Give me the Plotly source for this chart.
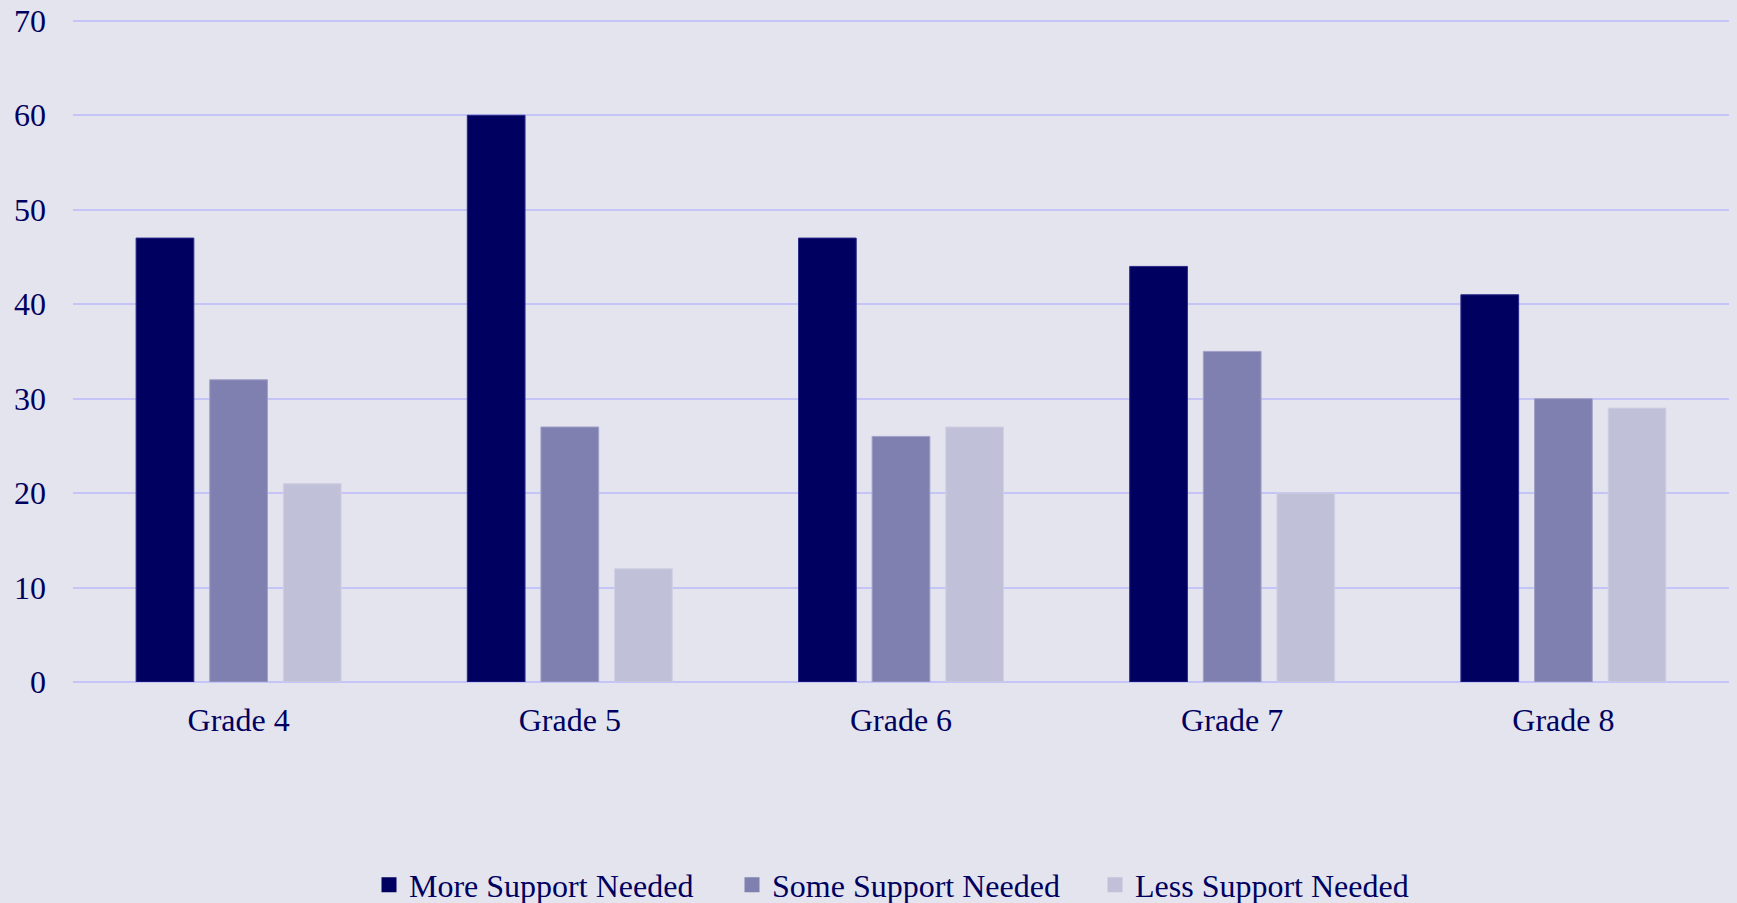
import plotly.graph_objects as go

categories = ["Grade 4", "Grade 5", "Grade 6", "Grade 7", "Grade 8"]
more_support = [47, 60, 47, 44, 41]
some_support = [32, 27, 26, 35, 30]
less_support = [21, 12, 27, 20, 29]
y_ticks = [0, 10, 20, 30, 40, 50, 60, 70]

series = [
    ("More Support Needed", more_support, "#000060", "#2a2a88"),
    ("Some Support Needed", some_support, "#8080b0", "#a0a0c8"),
    ("Less Support Needed", less_support, "#c0c0d8", "#d0d0e4"),
]

fig = go.Figure()
for name, vals, col, lcol in series:
    fig.add_trace(go.Bar(x=categories, y=vals, name=name, showlegend=False,
                         marker=dict(color=col, line=dict(color=lcol, width=1))))
# legend entries with larger square keys
for name, vals, col, lcol in series:
    fig.add_trace(go.Scatter(x=[None], y=[None], mode="markers", name=name,
                             marker=dict(symbol="square", size=15, color=col)))

font_family = "Liberation Serif, Times New Roman, serif"
text_color = "#000060"
bg = "#e4e4ee"
grid = "#c4c4f6"

fig.update_layout(
    width=1737, height=903,
    margin=dict(l=73, r=8, t=18, b=221, autoexpand=False),
    paper_bgcolor=bg, plot_bgcolor=bg,
    barmode="group", bargap=0.333, bargroupgap=0.216,
    font=dict(family=font_family, size=32, color=text_color),
    showlegend=True,
    legend=dict(orientation="h", xref="container", yref="container",
                x=369 / 1737, xanchor="left", y=1 - 885 / 903, yanchor="middle",
                font=dict(size=32, color=text_color), bgcolor="rgba(0,0,0,0)",
                entrywidth=318, entrywidthmode="pixels",
                itemwidth=30, tracegroupgap=0),
)
fig.update_xaxes(showgrid=False, showline=False, zeroline=False, automargin=False,
                 ticks="", ticklabelstandoff=16,
                 tickfont=dict(size=32, color=text_color))
fig.update_yaxes(range=[0, 70.3], tickvals=y_ticks, showgrid=True, gridcolor=grid,
                 gridwidth=2, zeroline=True, zerolinecolor=grid, zerolinewidth=2,
                 showline=False, ticks="", ticklabelstandoff=26, automargin=False,
                 tickfont=dict(size=32, color=text_color))

fig.write_html("out.html")
